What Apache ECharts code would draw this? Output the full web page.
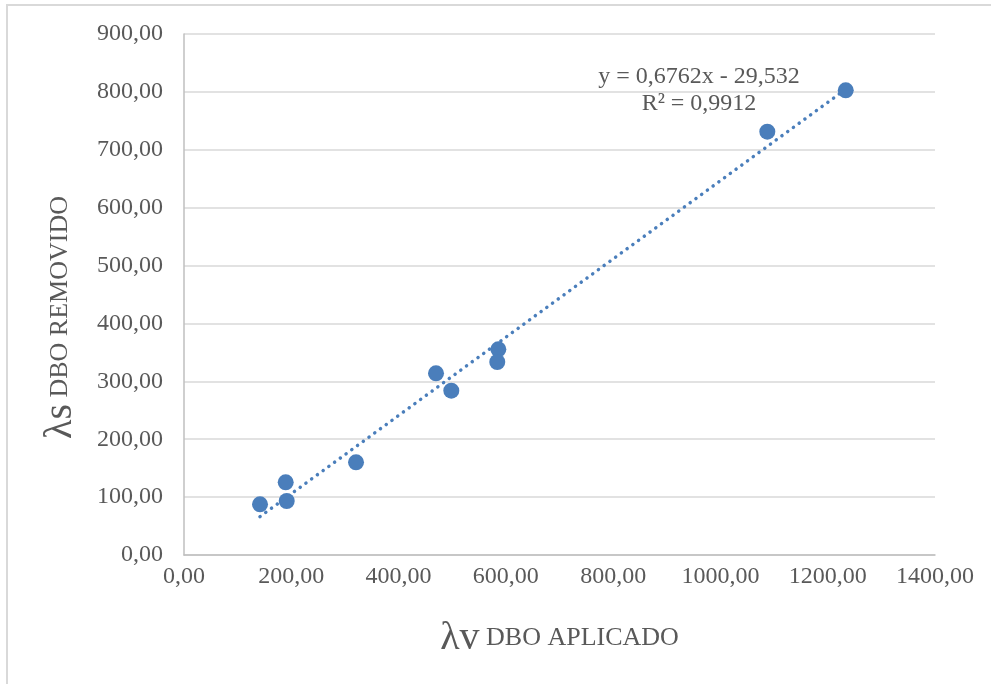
<!DOCTYPE html>
<html>
<head>
<meta charset="utf-8">
<script src="https://cdn.jsdelivr.net/npm/echarts@6/dist/echarts.min.js"></script>
<style>
  html, body { margin: 0; padding: 0; background: #fff; }
  #frame { position: absolute; left: 0; top: 0; width: 991px; height: 684px; }
  #edge { position: absolute; left: 6px; top: 4px; right: 0; bottom: 0;
          border-left: 2px solid #d9d9d9; border-top: 2px solid #d9d9d9; }
  #chart { position: absolute; left: 0; top: 0; width: 991px; height: 684px; }
</style>
</head>
<body>
<div id="frame">
  <div id="edge"></div>
  <div id="chart"></div>
</div>
<script>
// Applied BOD load (x) vs removed BOD load (y)
const appliedLoad = [141.7, 189.6, 191.5, 320.7, 469.8, 498.3, 586.0, 584.0, 1087.4, 1233.6];
const removedLoad = [87.6, 125.6, 93.3, 160.1, 313.9, 283.8, 355.3, 333.4, 731.2, 802.7];

// Linear trend line coefficients and fit quality
const slope = 0.6762;
const intercept = -29.532;
const rSquared = 0.9912;

const xTicks = { min: 0, max: 1400, interval: 200 };
const yTicks = { min: 0, max: 900, interval: 100 };

const points = appliedLoad.map((x, i) => [x, removedLoad[i]]);
const xLo = Math.min(...appliedLoad);
const xHi = Math.max(...appliedLoad);
const trend = [[xLo, slope * xLo + intercept], [xHi, slope * xHi + intercept]];

const fmt = v => v.toFixed(2).replace('.', ',');
const eqText = 'y = ' + String(slope).replace('.', ',') + 'x - ' +
  String(Math.abs(intercept)).replace('.', ',') + '\nR² = ' + String(rSquared).replace('.', ',');

const serif = '"Liberation Serif", "Times New Roman", serif';
const blue = '#4a7ebb';
const grey = '#595959';

const nameRich = {
  a: { fontSize: 40, fontFamily: serif, color: grey },
  b: { fontSize: 26, fontFamily: serif, color: grey }
};

const chart = echarts.init(document.getElementById('chart'), null, { renderer: 'canvas' });
chart.setOption({
  animation: false,
  textStyle: { fontFamily: serif },
  grid: { left: 184, right: 56, top: 34, bottom: 129 },
  xAxis: {
    type: 'value',
    min: xTicks.min, max: xTicks.max, interval: xTicks.interval,
    axisLine: { show: true, lineStyle: { color: '#bfbfbf', width: 1.5 } },
    axisTick: { show: false },
    splitLine: { show: false },
    axisLabel: { formatter: fmt, color: grey, fontSize: 24, fontFamily: serif, margin: 10 },
    name: '{a|λv}{b| DBO APLICADO}',
    nameLocation: 'middle',
    nameGap: 63,
    nameTextStyle: { color: grey, rich: nameRich }
  },
  yAxis: {
    type: 'value',
    min: yTicks.min, max: yTicks.max, interval: yTicks.interval,
    axisLine: { show: true, lineStyle: { color: '#bfbfbf', width: 1.5 } },
    axisTick: { show: false },
    splitLine: { show: true, lineStyle: { color: '#d9d9d9', width: 1.5 } },
    axisLabel: { formatter: fmt, color: grey, fontSize: 24, fontFamily: serif, margin: 21 },
    name: '{a|λs}{b| DBO REMOVIDO}',
    nameLocation: 'middle',
    nameGap: 104,
    nameTextStyle: { color: grey, rich: nameRich, padding: [0, 46, 0, 0] }
  },
  series: [
    {
      name: 'Tendencia',
      type: 'line',
      data: trend,
      showSymbol: false,
      silent: true,
      z: 1,
      lineStyle: { color: blue, width: 3.5, type: [0.1, 7], cap: 'round' }
    },
    {
      name: 'DBO',
      type: 'scatter',
      data: points,
      symbol: 'circle',
      symbolSize: 16,
      z: 2,
      itemStyle: { color: blue, opacity: 1 }
    }
  ],
  graphic: [
    {
      type: 'text',
      x: 699,
      y: 63,
      style: {
        text: eqText,
        fill: grey,
        font: '24px ' + serif,
        align: 'center',
        verticalAlign: 'top',
        lineHeight: 27
      }
    }
  ]
});
</script>
</body>
</html>
